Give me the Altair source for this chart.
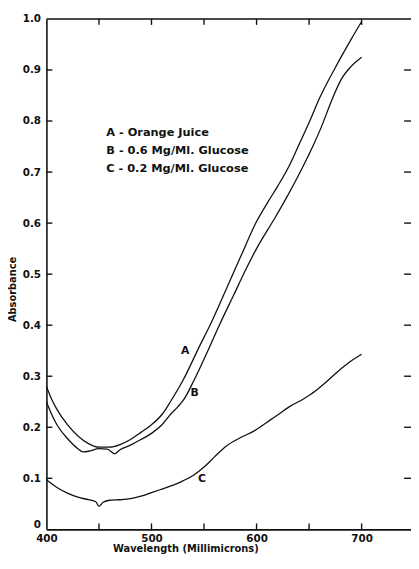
import altair as alt
import pandas as pd

# ---- data ----
wl_a = [400, 405, 410, 420, 430, 440, 450, 460, 470, 480, 490, 500, 510, 518, 530, 546, 555, 571, 585, 600, 611, 620, 631, 640, 650, 660, 675, 690, 700]
abs_a = [0.280, 0.255, 0.235, 0.205, 0.183, 0.168, 0.161, 0.161, 0.166, 0.176, 0.190, 0.205, 0.225, 0.250, 0.292, 0.360, 0.397, 0.470, 0.535, 0.603, 0.642, 0.672, 0.712, 0.752, 0.797, 0.845, 0.905, 0.960, 0.995]

wl_b = [400, 405, 410, 420, 430, 435, 440, 450, 458, 465, 470, 480, 490, 500, 510, 518, 525, 531, 540, 553, 565, 578, 590, 600, 618, 628, 643, 655, 662, 671, 681, 690, 700]
abs_b = [0.250, 0.225, 0.205, 0.178, 0.158, 0.152, 0.153, 0.158, 0.157, 0.148, 0.156, 0.165, 0.176, 0.188, 0.205, 0.225, 0.240, 0.255, 0.290, 0.347, 0.402, 0.458, 0.510, 0.550, 0.612, 0.648, 0.706, 0.757, 0.790, 0.838, 0.883, 0.907, 0.925]

wl_c = [400, 410, 420, 430, 440, 447, 450, 454, 460, 470, 480, 490, 500, 510, 520, 530, 540, 550, 560, 571, 585, 597, 610, 620, 631, 645, 656, 666, 676, 688, 700]
abs_c = [0.097, 0.082, 0.071, 0.063, 0.058, 0.054, 0.045, 0.053, 0.057, 0.058, 0.060, 0.065, 0.072, 0.079, 0.086, 0.095, 0.106, 0.122, 0.142, 0.163, 0.180, 0.192, 0.210, 0.224, 0.240, 0.256, 0.271, 0.288, 0.307, 0.327, 0.343]

legend_lines = ["A - Orange Juice", "B - 0.6 Mg/Ml. Glucose", "C - 0.2 Mg/Ml. Glucose"]
curve_names = ["A", "B", "C"]

x_label_values = [400, 500, 600, 700]
x_minor_ticks = [450, 500, 550, 600, 650, 700]
y_tick_values = [0, 0.1, 0.2, 0.3, 0.4, 0.5, 0.6, 0.7, 0.8, 0.9, 1.0]
y_inner_ticks = [0.1, 0.2, 0.3, 0.4, 0.5, 0.6, 0.7, 0.8, 0.9]

# ---- tables ----
rows = []
for name, xs_, ys_ in [("A", wl_a, abs_a), ("B", wl_b, abs_b), ("C", wl_c, abs_c)]:
    for i, (x, y) in enumerate(zip(xs_, ys_)):
        rows.append({"curve": name, "wl": x, "abs": y, "order": i})
curves = pd.DataFrame(rows)

legend_df = pd.DataFrame({"text": legend_lines, "wl": [457, 457, 457], "abs": [0.776, 0.742, 0.706]})
curve_lbl_df = pd.DataFrame({"text": curve_names, "wl": [532, 541, 548], "abs": [0.350, 0.268, 0.098]})
xt_df = pd.DataFrame({"wl": x_minor_ticks})
yt_df = pd.DataFrame({"abs": y_inner_ticks})

W, H = 370, 518
FONT = "DejaVu Sans"
INK = "#111111"

xs = alt.Scale(domain=[400, 747], nice=False, zero=False)
ys = alt.Scale(domain=[0, 1], nice=False)

xaxis = alt.Axis(values=x_label_values, ticks=False, grid=False, domainColor=INK,
                 domainWidth=1.6, labelFont=FONT, labelFontSize=10.5, labelFontWeight="bold",
                 labelColor=INK, labelPadding=4, labelFlush=False, title="Wavelength  (Millimicrons)",
                 titleFont=FONT, titleFontSize=10, titleFontWeight="bold", titleColor=INK,
                 titlePadding=0, titleX=141, titleAnchor="middle")
yaxis = alt.Axis(values=y_tick_values, ticks=False, grid=False, domainColor=INK,
                 domainWidth=1.6, labelFont=FONT, labelFontSize=10.5, labelFontWeight="bold",
                 labelColor=INK, labelPadding=6, labelFlush=False,
                 labelBaseline={"condition": {"test": "datum.value == 0", "value": "alphabetic"},
                                "value": "middle"},
                 labelOffset={"condition": {"test": "datum.value == 0", "value": -2}, "value": 0},
                 labelExpr="datum.value == 0 ? '0' : format(datum.value, '.1f')",
                 title="Absorbance", titleFont=FONT, titleFontSize=10,
                 titleFontWeight="bold", titleColor=INK, titlePadding=5, titleY=274)


def X(f="wl"):
    return alt.X(f"{f}:Q", scale=xs, axis=xaxis)


def Y(f="abs"):
    return alt.Y(f"{f}:Q", scale=ys, axis=yaxis)


lines = alt.Chart(curves).mark_line(color=INK, strokeWidth=1.3, interpolate="monotone").encode(
    x=X(), y=Y(), detail="curve:N", order="order:Q")

bottom_ticks = alt.Chart(xt_df).mark_rule(color=INK, strokeWidth=1.4).encode(
    x=X(), y=alt.value(H), y2=alt.value(H - 6))
top_ticks = alt.Chart(xt_df).mark_rule(color=INK, strokeWidth=1.4).encode(
    x=X(), y=alt.value(0), y2=alt.value(6))
left_ticks = alt.Chart(yt_df).mark_rule(color=INK, strokeWidth=1.4).encode(
    y=Y(), x=alt.value(0), x2=alt.value(6))
right_ticks = alt.Chart(yt_df).mark_rule(color=INK, strokeWidth=1.4).encode(
    y=Y(), x=alt.value(W - 7), x2=alt.value(W))
top_line = alt.Chart(pd.DataFrame({"k": [0]})).mark_rule(color=INK, strokeWidth=1.6).encode(
    x=alt.value(0), x2=alt.value(W), y=alt.value(0))

legend_text = alt.Chart(legend_df).mark_text(
    align="left", baseline="middle", font=FONT, fontSize=11.5, fontWeight="bold", color=INK
).encode(x=X(), y=Y(), text="text:N")

curve_text = alt.Chart(curve_lbl_df).mark_text(
    align="center", baseline="middle", font=FONT, fontSize=11, fontWeight="bold", color=INK
).encode(x=X(), y=Y(), text="text:N")

chart = alt.layer(
    lines, top_line, bottom_ticks, top_ticks, left_ticks, right_ticks, legend_text, curve_text
).properties(
    width=W, height=H,
    autosize=alt.AutoSizeParams(type="none"),
    padding={"left": 39, "top": 7, "right": 0, "bottom": 27},
    background="white",
).configure_view(stroke=None)

chart.save("out.html", embed_options={"renderer": "svg", "actions": False})
